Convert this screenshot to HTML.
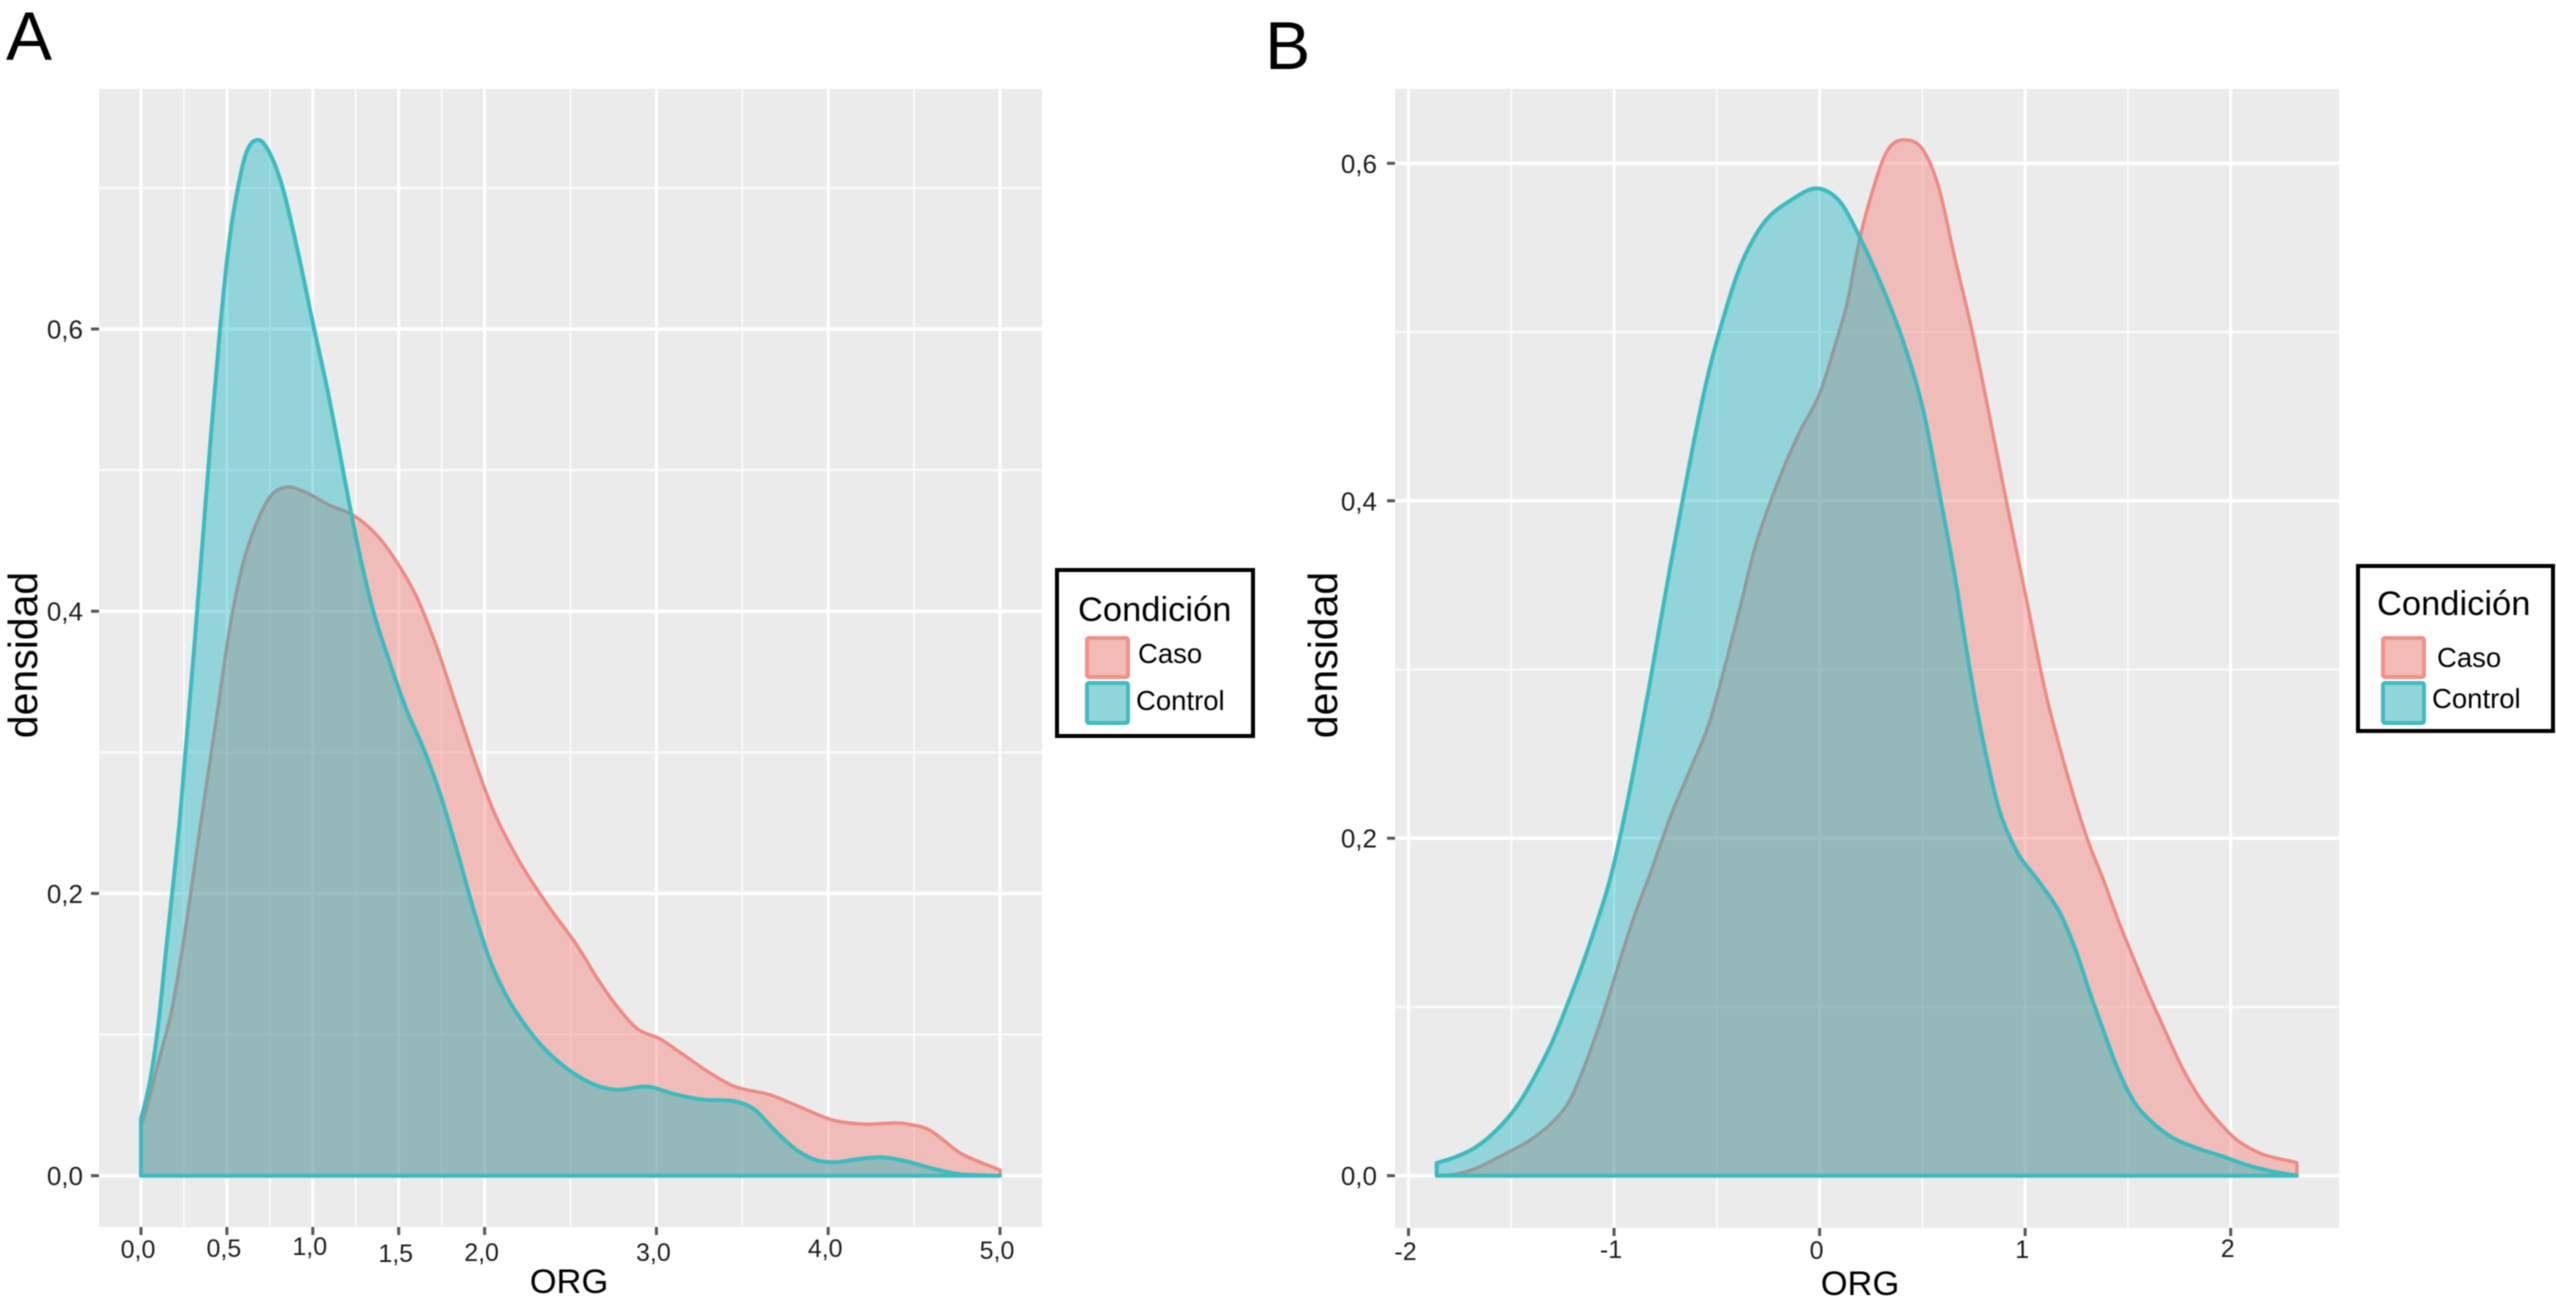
<!DOCTYPE html>
<html lang="es">
<head>
<meta charset="utf-8">
<title>Densidad ORG: Caso y Control</title>
<style>
html,body{margin:0;padding:0;background:#fff;width:2556px;height:1303px;overflow:hidden}
svg{display:block;filter:blur(0.45px);font-family:"Liberation Sans",sans-serif}
</style>
</head>
<body>
<svg id="figure" xmlns="http://www.w3.org/2000/svg" width="2556" height="1303" viewBox="0 0 2556 1303">
  <rect x="0" y="0" width="2556" height="1303" fill="#ffffff"/>

  <text x="6" y="60" font-size="69" fill="#000">A</text>
  <text x="1265" y="69" font-size="68" fill="#000">B</text>

  <g id="panel-a"></g>
  <g id="panel-b"></g>

  <text transform="translate(37 655) rotate(-90)" text-anchor="middle" font-size="41" fill="#000">densidad</text>
  <text transform="translate(1337 655) rotate(-90)" text-anchor="middle" font-size="41" fill="#000">densidad</text>
  <text x="569" y="1293" text-anchor="middle" font-size="34.5" fill="#000">ORG</text>
  <text x="1860" y="1295" text-anchor="middle" font-size="34.5" fill="#000">ORG</text>

  <g>
    <rect x="1057" y="570" width="196" height="166" fill="#fff" stroke="#000" stroke-width="4"/>
    <text x="1078" y="621" font-size="34.5" fill="#000">Condición</text>
    <rect x="1087" y="638" width="41" height="39" rx="2" fill="#F3BBB8" stroke="#F0928C" stroke-width="4"/>
    <rect x="1087" y="683" width="41" height="40" rx="2" fill="#90D5DA" stroke="#45BBC0" stroke-width="4"/>
    <text x="1138" y="663" font-size="27.5" fill="#000">Caso</text>
    <text x="1136" y="710" font-size="27.5" fill="#000">Control</text>
  </g>

  <g>
    <rect x="2358" y="566" width="195" height="165" fill="#fff" stroke="#000" stroke-width="4"/>
    <text x="2377" y="615" font-size="34.5" fill="#000">Condición</text>
    <rect x="2383" y="638" width="41" height="39" rx="2" fill="#F3BBB8" stroke="#F0928C" stroke-width="4"/>
    <rect x="2383" y="683" width="41" height="40" rx="2" fill="#90D5DA" stroke="#45BBC0" stroke-width="4"/>
    <text x="2437" y="667" font-size="27.5" fill="#000">Caso</text>
    <text x="2432" y="708" font-size="27.5" fill="#000">Control</text>
  </g>
</svg>

<script>
// ---------- Data: [ORG, densidad] ----------
const casoA = [[0,.035],[.05,.055],[.1,.08],[.18,.118],[.237,.158],[.353,.254],[.44,.325],[.518,.389],[.594,.434],[.673,.4625],[.751,.481],[.848,.488],[.943,.485],[1.1,.475],[1.236,.468],[1.372,.454],[1.488,.435],[1.605,.41],[1.72,.375],[1.838,.332],[1.954,.29],[2.05,.259],[2.187,.226],[2.36,.193],[2.555,.16],[2.65,.141],[2.77,.12],[2.89,.104],[3.02,.097],[3.16,.0855],[3.3,.0737],[3.44,.064],[3.67,.057],[3.83,.049],[4.04,.039],[4.2,.0366],[4.44,.037],[4.57,.0335],[4.77,.016],[5,.004]];
const controlA = [[0,.04],[.057,.07],[.11,.117],[.14,.153],[.227,.254],[.324,.396],[.4,.514],[.46,.6],[.52,.668],[.564,.7],[.605,.722],[.68,.734],[.76,.722],[.825,.7],[.9,.662],[1.008,.6],[1.08,.56],[1.148,.518],[1.216,.474],[1.275,.439],[1.35,.401],[1.45,.363],[1.546,.33],[1.64,.304],[1.74,.271],[1.838,.231],[1.93,.191],[2.03,.153],[2.12,.129],[2.24,.106],[2.34,.091],[2.49,.075],[2.65,.064],[2.75,.061],[2.96,.063],[3.1,.058],[3.26,.054],[3.44,.053],[3.57,.047],[3.69,.032],[3.83,.017],[3.93,.011],[4.04,.0095],[4.16,.0116],[4.32,.013],[4.44,.0106],[4.61,.005],[4.77,.001],[5,0]];
const casoB = [[-1.863,0],[-1.766,.001],[-1.669,.0045],[-1.54,.0123],[-1.394,.0223],[-1.297,.032],[-1.215,.0448],[-1.151,.0626],[-1.085,.0844],[-1.036,.1022],[-.971,.1277],[-.908,.1515],[-.815,.182],[-.728,.212],[-.632,.24],[-.535,.269],[-.458,.303],[-.382,.339],[-.324,.368],[-.228,.403],[-.1,.44],[.007,.4656],[.082,.495],[.132,.516],[.194,.5545],[.256,.583],[.331,.6078],[.426,.6138],[.504,.6078],[.579,.586],[.653,.5465],[.752,.495],[.827,.45],[.9,.405],[1.004,.343],[1.1,.286],[1.196,.2417],[1.31,.197],[1.381,.1753],[1.446,.1535],[1.51,.134],[1.592,.11],[1.672,.0883],[1.77,.0626],[1.867,.043],[1.948,.0311],[2.03,.0212],[2.127,.0142],[2.322,.0077]];
const controlB = [[-1.863,.0075],[-1.766,.0113],[-1.669,.0172],[-1.571,.0271],[-1.474,.0409],[-1.377,.0608],[-1.297,.0804],[-1.231,.1002],[-1.151,.126],[-1.085,.1497],[-1.02,.1753],[-.94,.2184],[-.882,.2546],[-.825,.2925],[-.786,.32],[-.728,.36],[-.67,.398],[-.612,.435],[-.538,.477],[-.476,.505],[-.389,.538],[-.29,.5615],[-.141,.578],[.007,.5848],[.107,.576],[.194,.5565],[.304,.527],[.405,.495],[.504,.4537],[.59,.4],[.657,.356],[.715,.3115],[.763,.2776],[.812,.248],[.87,.2184],[.946,.1953],[1.0725,.1734],[1.17,.1555],[1.251,.132],[1.316,.108],[1.38,.0863],[1.446,.0646],[1.525,.0448],[1.624,.031],[1.72,.0223],[1.835,.0164],[1.964,.0113],[2.078,.0063],[2.208,.0024],[2.322,0]];

const xTicksA = [0, .5, 1, 1.5, 2, 3, 4, 5];
const xTickLabelsA = ['0,0', '0,5', '1,0', '1,5', '2,0', '3,0', '4,0', '5,0'];
const xMinorA = [.25, .75, 1.25, 1.75, 2.5, 3.5, 4.5];
const yTicksA = [0, .2, .4, .6];
const yTickLabelsA = ['0,0', '0,2', '0,4', '0,6'];
const yMinorA = [.1, .3, .5, .7];

const xTicksB = [-2, -1, 0, 1, 2];
const xTickLabelsB = ['-2', '-1', '0', '1', '2'];
const xMinorB = [-1.5, -.5, .5, 1.5];
const yTicksB = [0, .2, .4, .6];
const yTickLabelsB = ['0,0', '0,2', '0,4', '0,6'];
const yMinorB = [.1, .3, .5];

// ---------- Layout (not data) ----------
const SVG_NS = 'http://www.w3.org/2000/svg';
const layoutA = {left: 99, right: 1042, top: 89, bottom: 1227, labelRight: 83, labelBase: [1258, 1257, 1255, 1262, 1261, 1261, 1257, 1259]};
const layoutB = {left: 1395, right: 2339, top: 89, bottom: 1228, labelRight: 1377, labelBase: [1260, 1258, 1259, 1258, 1257]};

function linear(d0, d1, r0, r1) {
  return function (v) { return r0 + (v - d0) * (r1 - r0) / (d1 - d0); };
}
const xScaleA = linear(0, 5, 141, 1000);
const yScaleA = linear(0, .6, 1175.7, 329);
const xScaleB = linear(-2, 2, 1408.5, 2230.7);
const yScaleB = linear(0, .6, 1175.7, 163.3);

function make(parent, tag, attrs) {
  const el = document.createElementNS(SVG_NS, tag);
  for (const k in attrs) el.setAttribute(k, attrs[k]);
  parent.appendChild(el);
  return el;
}

// Smooth cubic through the read points, drawn through the axis functions.
function areaPath(series, xs, ys) {
  const px = series.map(function (p) { return xs(p[0]); });
  const py = series.map(function (p) { return ys(p[1]); });
  const n = px.length;
  const s = [];
  for (let i = 0; i < n - 1; i++) s.push((py[i + 1] - py[i]) / (px[i + 1] - px[i]));
  const t = new Array(n);
  t[0] = s[0];
  t[n - 1] = s[n - 2];
  for (let i = 1; i < n - 1; i++) {
    const h0 = px[i] - px[i - 1];
    const h1 = px[i + 1] - px[i];
    const p = (s[i - 1] * h1 + s[i] * h0) / (h0 + h1);
    if (s[i - 1] * s[i] <= 0) {
      t[i] = p;
    } else {
      const limit = 3 * Math.min(Math.abs(s[i - 1]), Math.abs(s[i]));
      t[i] = Math.sign(p) * Math.min(Math.abs(p), limit);
    }
  }
  const base = ys(0);
  let d = 'M' + px[0].toFixed(2) + ' ' + base.toFixed(2) + 'L' + px[0].toFixed(2) + ' ' + py[0].toFixed(2);
  for (let i = 0; i < n - 1; i++) {
    const dx = (px[i + 1] - px[i]) / 3;
    d += 'C' + (px[i] + dx).toFixed(2) + ' ' + (py[i] + dx * t[i]).toFixed(2) + ' ' +
         (px[i + 1] - dx).toFixed(2) + ' ' + (py[i + 1] - dx * t[i + 1]).toFixed(2) + ' ' +
         px[i + 1].toFixed(2) + ' ' + py[i + 1].toFixed(2);
  }
  d += 'L' + px[n - 1].toFixed(2) + ' ' + base.toFixed(2) + 'Z';
  return d;
}

function drawPanel(root, box, xs, ys, xTicks, xLabels, xMinor, yTicks, yLabels, yMinor, caso, control) {
  const bg = make(root, 'rect', {x: box.left, y: box.top, width: box.right - box.left, height: box.bottom - box.top, fill: '#EBEBEB'});
  
  

  xMinor.forEach(function (v) {
    const el = make(root, 'line', {x1: xs(v), x2: xs(v), y1: box.top, y2: box.bottom, stroke: '#fff', 'stroke-width': 1.8, 'stroke-opacity': .8});
    
    
  });
  yMinor.forEach(function (v) {
    const el = make(root, 'line', {x1: box.left, x2: box.right, y1: ys(v), y2: ys(v), stroke: '#fff', 'stroke-width': 2.2, 'stroke-opacity': .8});
    
    
  });
  xTicks.forEach(function (v) {
    const el = make(root, 'line', {x1: xs(v), x2: xs(v), y1: box.top, y2: box.bottom, stroke: '#fff', 'stroke-width': 3});
    
    
  });
  yTicks.forEach(function (v) {
    const el = make(root, 'line', {x1: box.left, x2: box.right, y1: ys(v), y2: ys(v), stroke: '#fff', 'stroke-width': 3.4});
    
    
  });

  const casoArea = make(root, 'path', {d: areaPath(caso, xs, ys), fill: '#F8766D', 'fill-opacity': .4, stroke: '#EE8A84', 'stroke-width': 3.4, 'stroke-linejoin': 'round'});
  
  

  const controlArea = make(root, 'path', {d: areaPath(control, xs, ys), fill: '#0CB2BE', 'fill-opacity': .4, stroke: '#3CBBBF', 'stroke-width': 4, 'stroke-linejoin': 'round'});
  
  

  xTicks.forEach(function (v, i) {
    const tick = make(root, 'line', {x1: xs(v), x2: xs(v), y1: box.bottom, y2: box.bottom + 8, stroke: '#555', 'stroke-width': 3});
    
    
    const label = make(root, 'text', {x: xs(v) - 3, y: box.labelBase[i], 'text-anchor': 'middle', 'font-size': 25, fill: '#1c1c1c'});
    
    
    label.textContent = xLabels[i];
  });
  yTicks.forEach(function (v, i) {
    const tick = make(root, 'line', {x1: box.left - 8, x2: box.left, y1: ys(v), y2: ys(v), stroke: '#555', 'stroke-width': 3});
    
    
    const label = make(root, 'text', {x: box.labelRight, y: ys(v) + 9.5, 'text-anchor': 'end', 'font-size': 26, fill: '#1c1c1c'});
    
    
    label.textContent = yLabels[i];
  });
}

drawPanel(document.getElementById('panel-a'), layoutA, xScaleA, yScaleA, xTicksA, xTickLabelsA, xMinorA, yTicksA, yTickLabelsA, yMinorA, casoA, controlA);
drawPanel(document.getElementById('panel-b'), layoutB, xScaleB, yScaleB, xTicksB, xTickLabelsB, xMinorB, yTicksB, yTickLabelsB, yMinorB, casoB, controlB);
</script>
</body>
</html>
